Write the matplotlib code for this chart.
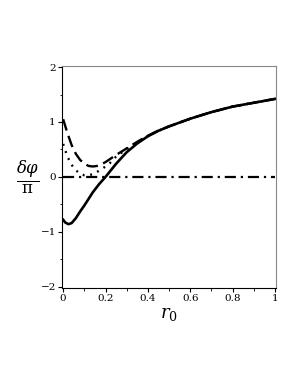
import matplotlib
matplotlib.use("Agg")
import matplotlib.pyplot as plt

# solid curve
r_solid = [0, 0.01, 0.025, 0.04, 0.06, 0.08, 0.1, 0.12, 0.14, 0.17, 0.2, 0.25,
           0.3, 0.35, 0.4, 0.45, 0.5, 0.6, 0.7, 0.8, 0.9, 1.0]
v_solid = [-0.78, -0.83, -0.86, -0.84, -0.75, -0.63, -0.52, -0.40, -0.28, -0.13,
           0.0, 0.24, 0.45, 0.61, 0.74, 0.84, 0.92, 1.06, 1.18, 1.28, 1.35, 1.42]
# dashed curve
r_dash = [0, 0.02, 0.04, 0.06, 0.08, 0.1, 0.12, 0.14, 0.16, 0.18, 0.2, 0.25,
          0.3, 0.35, 0.4, 0.45, 0.5, 0.6, 0.7, 0.8, 0.9, 1.0]
v_dash = [1.05, 0.8, 0.58, 0.42, 0.31, 0.24, 0.2, 0.19, 0.2, 0.23, 0.27, 0.4,
          0.52, 0.64, 0.75, 0.845, 0.92, 1.06, 1.18, 1.28, 1.35, 1.42]
# dotted curve
r_dot = [0, 0.02, 0.04, 0.06, 0.08, 0.1, 0.12, 0.14, 0.16, 0.18, 0.2, 0.22,
         0.25, 0.3, 0.35, 0.4, 0.45, 0.5, 0.6, 0.7, 0.8, 0.9, 1.0]
v_dot = [0.6, 0.37, 0.22, 0.12, 0.06, 0.03, 0.03, 0.05, 0.09, 0.14, 0.19, 0.25,
         0.37, 0.51, 0.63, 0.745, 0.84, 0.92, 1.06, 1.18, 1.28, 1.35, 1.42]
# dash-dot line
r_zero = [0, 1.0]
v_zero = [0, 0]

xticks = [0, 0.2, 0.4, 0.6, 0.8, 1.0]
xticklabels = ["0", "0.2", "0.4", "0.6", "0.8", "1"]
yticks = [-2, -1, 0, 1, 2]
yticklabels = ["\u22122", "\u22121", "0", "1", "2"]

plt.rcParams['font.family'] = ['DejaVu Serif']
plt.rcParams['mathtext.fontset'] = 'dejavuserif'

fig = plt.figure(figsize=(3.0, 3.88), dpi=100)
ax = fig.add_axes([0.207, 0.258, 0.713, 0.572])

ax.plot(r_zero, v_zero, color='black', lw=1.6, linestyle=(0, (5.0, 2.2, 1.0, 2.2)))
ax.plot(r_dot, v_dot, color='black', lw=1.7, linestyle=(0, (0.8, 2.4)))
ax.plot(r_dash, v_dash, color='black', lw=1.7, linestyle=(0, (5.0, 2.4)))
ax.plot(r_solid, v_solid, color='black', lw=1.9)

ax.set_xlim(-0.005, 1.005)
ax.set_ylim(-2.02, 2.02)
ax.set_xticks(xticks)
ax.set_xticklabels(xticklabels)
ax.set_yticks(yticks)
ax.set_yticklabels(yticklabels)
ax.set_xticks([0.1, 0.3, 0.5, 0.7, 0.9], minor=True)
ax.set_yticks([-1.5, -0.5, 0.5, 1.5], minor=True)
ax.tick_params(axis='both', which='major', length=3, width=0.8, labelsize=7.5, pad=1.5)
ax.tick_params(axis='both', which='minor', length=1.8, width=0.6)
for s in ['top', 'right']:
    ax.spines[s].set_color('#888888')
    ax.spines[s].set_linewidth(0.8)
for s in ['left', 'bottom']:
    ax.spines[s].set_linewidth(0.8)

fig.text(0.093, 0.543, r'$\frac{\delta\varphi}{\mathrm{\pi}}$', fontsize=17,
         ha='center', va='center')
ax.set_xlabel(r'$r_0$', fontsize=13, labelpad=1)

fig.savefig("out.png", dpi=100)
